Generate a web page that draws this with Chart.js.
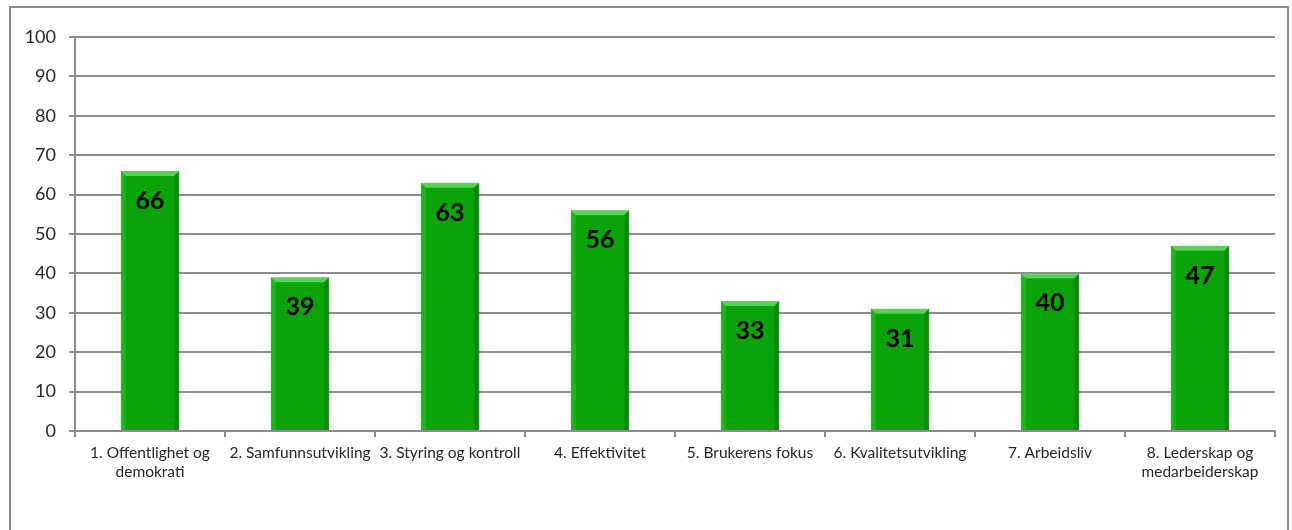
<!DOCTYPE html>
<html>
<head>
<meta charset="utf-8">
<script src="https://cdn.jsdelivr.net/npm/chart.js@4/dist/chart.umd.min.js"></script>
<style>
  html, body { margin: 0; padding: 0; background: #fff; }
  .frame {
    position: absolute; left: 9px; top: 6px; width: 1280px; height: 540px;
    border: 2px solid #8a8a8a; box-sizing: border-box;
  }
  .wrap { position: absolute; left: 0; top: 0; width: 1292px; height: 530px; }
</style>
</head>
<body>
<div class="frame"></div>
<div class="wrap"><canvas id="chart"></canvas></div>
<script>
const categories = [
  ['1. Offentlighet og', 'demokrati'],
  '2. Samfunnsutvikling',
  '3. Styring og kontroll',
  '4. Effektivitet',
  '5. Brukerens fokus',
  '6. Kvalitetsutvikling',
  '7. Arbeidsliv',
  ['8. Lederskap og', 'medarbeiderskap'],
];
const scores = [66, 39, 63, 56, 33, 31, 40, 47];
const yTicks = [0, 10, 20, 30, 40, 50, 60, 70, 80, 90, 100];

// value labels inside the top of each bar, plus a light bevel like the original
const barDecor = {
  id: 'barDecor',
  afterDatasetsDraw(chart) {
    const {ctx} = chart;
    const meta = chart.getDatasetMeta(0);
    meta.data.forEach((bar, i) => {
      const left = bar.x - bar.width / 2;
      const right = bar.x + bar.width / 2;
      const top = bar.y;
      const bottom = bar.base;
      const b = 5;
      ctx.save();
      // top bevel
      ctx.fillStyle = 'rgba(120,230,120,0.7)';
      ctx.beginPath();
      ctx.moveTo(left, top); ctx.lineTo(right, top);
      ctx.lineTo(right - b, top + b); ctx.lineTo(left + b, top + b);
      ctx.closePath(); ctx.fill();
      // left bevel
      ctx.fillStyle = 'rgba(60,200,60,0.4)';
      ctx.beginPath();
      ctx.moveTo(left, top); ctx.lineTo(left + b, top + b);
      ctx.lineTo(left + b, bottom); ctx.lineTo(left, bottom);
      ctx.closePath(); ctx.fill();
      // right bevel
      ctx.fillStyle = 'rgba(0,90,0,0.3)';
      ctx.beginPath();
      ctx.moveTo(right, top); ctx.lineTo(right - b, top + b);
      ctx.lineTo(right - b, bottom); ctx.lineTo(right, bottom);
      ctx.closePath(); ctx.fill();

      ctx.fillStyle = '#000';
      ctx.font = 'bold 25px Lato';
      ctx.textAlign = 'center';
      ctx.textBaseline = 'middle';
      ctx.fillText(String(scores[i]), bar.x, top + 30);
      ctx.restore();
    });
  },
};

const axisColor = '#8c8c8c';
const textColor = '#262626';

new Chart(document.getElementById('chart'), {
  type: 'bar',
  data: {
    labels: categories,
    datasets: [{
      data: scores,
      backgroundColor: '#0aa30a',
      borderColor: '#078a07',
      borderWidth: 1,
      categoryPercentage: 0.39,
      barPercentage: 1,
    }],
  },
  options: {
    responsive: true,
    maintainAspectRatio: false,
    animation: false,
    layout: {padding: {top: 37, right: 17, left: 0, bottom: 0}},
    plugins: {legend: {display: false}, tooltip: {enabled: false}},
    scales: {
      x: {
        grid: {
          offset: true, drawOnChartArea: false, drawTicks: true,
          tickLength: 6, color: axisColor, lineWidth: 2,
        },
        border: {color: axisColor, width: 2},
        ticks: {
          color: textColor, font: {family: 'Lato', size: 15.5}, padding: 7,
          maxRotation: 0, autoSkip: false,
        },
        afterFit(scale) { scale.height = 99; },
      },
      y: {
        min: 0, max: 100,
        afterBuildTicks(scale) { scale.ticks = yTicks.map(v => ({value: v})); },
        grid: {color: axisColor, lineWidth: 2, tickLength: 6},
        border: {color: axisColor, width: 2},
        ticks: {color: textColor, font: {family: 'Lato', size: 18}, padding: 13},
        afterFit(scale) { scale.width = 75; },
      },
    },
  },
  plugins: [barDecor],
});
</script>
</body>
</html>
